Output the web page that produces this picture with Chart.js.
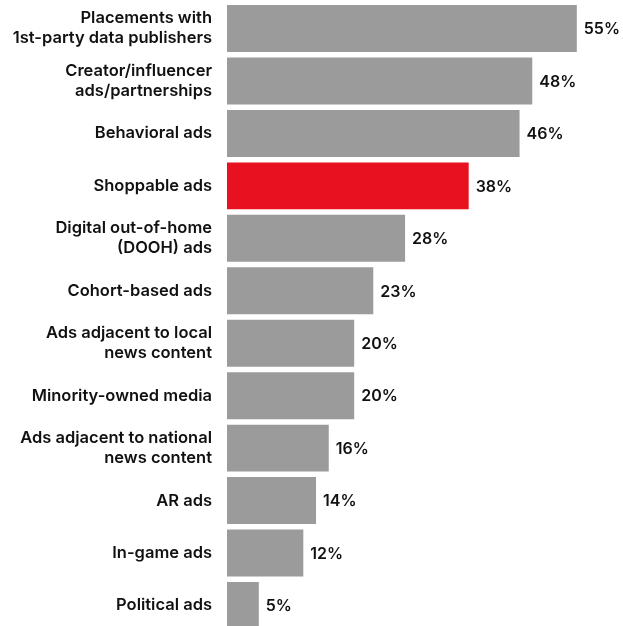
<!DOCTYPE html>
<html>
<head>
<meta charset="utf-8">
<script src="https://cdn.jsdelivr.net/npm/chart.js@4.4.1/dist/chart.umd.min.js"></script>
<style>
  html, body { margin: 0; padding: 0; background: #fff; overflow: hidden; }
  #wrap { width: 623px; height: 632px; position: relative; }
</style>
</head>
<body>
<div id="wrap"><canvas id="adChart"></canvas></div>
<script>
var categories = [
    ['Placements with', '1st-party data publishers'],
    ['Creator/influencer', 'ads/partnerships'],
    'Behavioral ads',
    'Shoppable ads',
    ['Digital out-of-home', '(DOOH) ads'],
    'Cohort-based ads',
    ['Ads adjacent to local', 'news content'],
    'Minority-owned media',
    ['Ads adjacent to national', 'news content'],
    'AR ads',
    'In-game ads',
    'Political ads'
];
var shares = [55, 48, 46, 38, 28, 23, 20, 20, 16, 14, 12, 5];
var highlightIndex = 3;

var GRAY = '#9b9b9b';
var RED = '#e8111f';

// draw the "NN%" text right after each bar
var valueLabels = {
    id: 'valueLabels',
    afterDatasetsDraw: function (chart) {
        var ctx = chart.ctx;
        var meta = chart.getDatasetMeta(0);
        ctx.save();
        ctx.font = '600 16px Inter, "Noto Sans", sans-serif';
        ctx.fillStyle = '#111';
        ctx.textAlign = 'left';
        ctx.textBaseline = 'middle';
        meta.data.forEach(function (bar, i) {
            ctx.fillText(shares[i] + '%', bar.x + 7, bar.y + 1);
        });
        ctx.restore();
    }
};

var ctx = document.getElementById('adChart').getContext('2d');
new Chart(ctx, {
    type: 'bar',
    data: {
        labels: categories,
        datasets: [{
            data: shares,
            backgroundColor: shares.map(function (v, i) { return i === highlightIndex ? RED : GRAY; }),
            borderWidth: 0,
            barPercentage: 0.896,
            categoryPercentage: 1
        }]
    },
    options: {
        indexAxis: 'y',
        responsive: true,
        maintainAspectRatio: false,
        animation: false,
        layout: { padding: { top: 2.3, bottom: 0.3, left: 0, right: 14.4 } },
        scales: {
            x: {
                display: false,
                min: 0,
                max: 60
            },
            y: {
                grid: { display: false, drawTicks: false },
                border: { display: false },
                ticks: {
                    padding: 15,
                    color: '#111',
                    font: { family: 'Inter, "Noto Sans", sans-serif', size: 16.5, weight: '600', lineHeight: 1.21 }
                },
                afterFit: function (scale) {
                    scale.width = 227;
                    // labels may overhang the top/bottom bars, don't shrink the plot for them
                    scale.paddingTop = 0;
                    scale.paddingBottom = 0;
                }
            }
        },
        plugins: {
            legend: { display: false },
            tooltip: { enabled: false }
        }
    },
    plugins: [valueLabels]
});
</script>
</body>
</html>
